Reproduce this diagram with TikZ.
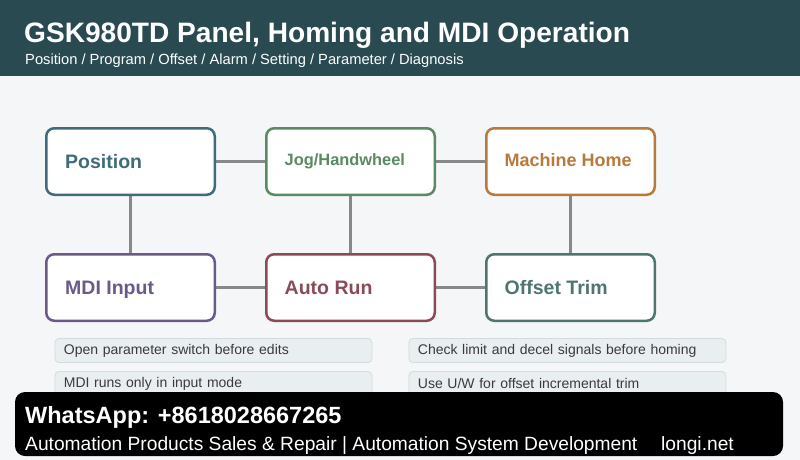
\documentclass[tikz,border=0pt]{standalone}
\usepackage{fontspec}
\setmainfont{Liberation Sans}
\usetikzlibrary{backgrounds}
\definecolor{bgc}{HTML}{F4F6F8}
\definecolor{hdr}{HTML}{2A4A52}
\definecolor{cpos}{HTML}{3F6B7A}
\definecolor{cjog}{HTML}{5A8A62}
\definecolor{chome}{HTML}{B87A3C}
\definecolor{cmdi}{HTML}{6A5A8A}
\definecolor{crun}{HTML}{8A4A58}
\definecolor{ctrim}{HTML}{4E7570}
\definecolor{conn}{HTML}{888888}
\definecolor{notefill}{HTML}{E9EEF1}
\definecolor{notedraw}{HTML}{D3DBDF}
\definecolor{notetext}{HTML}{3A3A3A}
\tikzset{
  stagebox/.style={draw=#1, fill=white, line width=2.5pt, rounded corners=8pt,
    minimum height=66.5pt, minimum width=168.5pt, inner sep=0pt},
  stagelabel/.style={text=#1, anchor=base west, inner sep=0pt,
    font=\bfseries\fontsize{19.5}{22}\selectfont},
  notebox/.style={draw=notedraw, fill=notefill, line width=0.8pt, rounded corners=4pt,
    minimum height=24pt, minimum width=317pt, text width=299pt, inner xsep=9pt, align=left,
    anchor=west, text=notetext, font=\fontsize{14}{16}\selectfont},
  link/.style={draw=conn, line width=3.8pt}
}
\begin{document}
\begin{tikzpicture}[x=1pt,y=-1pt]
\useasboundingbox (0,0) rectangle (800,460);

\node[stagebox=cpos] (pos) at (130.5,161.5) {};
\node[stagebox=cjog] (jog) at (350.5,161.5) {};
\node[stagebox=chome] (home) at (570.5,161.5) {};
\node[stagebox=cmdi] (mdi) at (130.5,287.5) {};
\node[stagebox=crun] (run) at (350.5,287.5) {};
\node[stagebox=ctrim] (trim) at (570.5,287.5) {};

\begin{pgfonlayer}{background}
\fill[bgc] (0,0) rectangle (800,460);
\fill[hdr] (0,0) rectangle (800,76);
\draw[link] (pos.east) -- (jog.west);
\draw[link] (jog.east) -- (home.west);
\draw[link] (mdi.east) -- (run.west);
\draw[link] (run.east) -- (trim.west);
\draw[link] (pos.south) -- (mdi.north);
\draw[link] (jog.south) -- (run.north);
\draw[link] (home.south) -- (trim.north);
\end{pgfonlayer}

\node[anchor=base west, inner sep=0, text=white, font=\bfseries\fontsize{28.1}{30}\selectfont] (title) at (24,43) {GSK980TD Panel, Homing and MDI Operation};
\node[anchor=base west, inner sep=0, text=white, font=\fontsize{14.7}{17}\selectfont] (sub) at (25,65) {Position / Program / Offset / Alarm / Setting / Parameter / Diagnosis};

\node[stagelabel=cpos] (posl) at (65,168.5) {Position};
\node[stagelabel=cjog, font=\bfseries\fontsize{16.4}{19}\selectfont] (jogl) at (284.5,165.5) {Jog/Handwheel};
\node[stagelabel=chome, font=\bfseries\fontsize{18}{20}\selectfont] (homel) at (504.5,166.5) {Machine Home};
\node[stagelabel=cmdi] (mdil) at (65,294.5) {MDI Input};
\node[stagelabel=crun] (runl) at (284.5,294.5) {Auto Run};
\node[stagelabel=ctrim] (triml) at (504.5,294.5) {Offset Trim};

\node[notebox] (n1) at (54.5,350.5) {Open parameter switch before edits};
\node[notebox] (n2) at (54.5,383.5) {MDI runs only in input mode};
\node[notebox] (n3) at (408.5,350.5) {Check limit and decel signals before homing};
\node[notebox] (n4) at (408.5,383.5) {Use U/W for offset incremental trim};

\fill[black, rounded corners=10pt] (15,392) rectangle (783,456);
\node[anchor=base west, inner sep=0, text=white, font=\bfseries\fontsize{23.5}{26}\selectfont] (wa) at (25,423) {WhatsApp: +8618028667265};
\node[anchor=base west, inner sep=0, text=white, font=\fontsize{19.2}{22}\selectfont] (tag) at (25,450) {Automation Products Sales \& Repair | Automation System Development};
\node[anchor=base west, inner sep=0, text=white, font=\fontsize{19.2}{22}\selectfont] (web) at (661,450) {longi.net};
\end{tikzpicture}
\end{document}
